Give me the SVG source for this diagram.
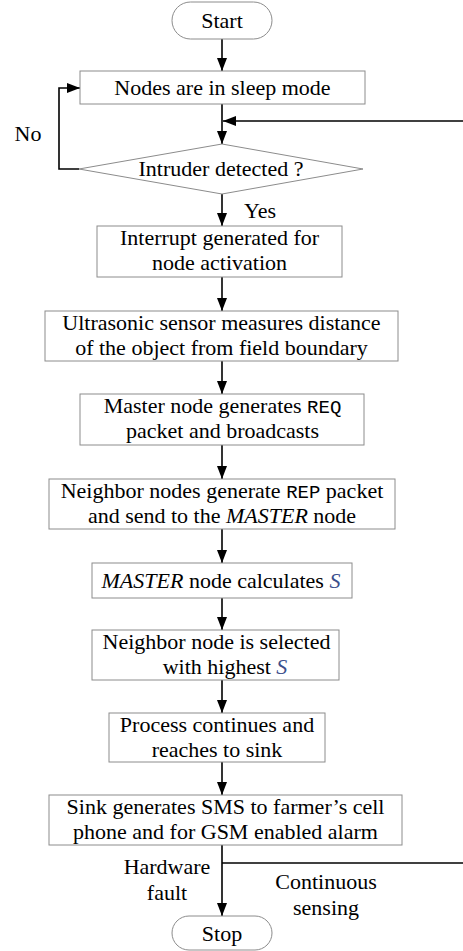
<svg xmlns="http://www.w3.org/2000/svg" width="463" height="951" viewBox="0 0 463 951">
<style>
.box{fill:#fff;stroke:#8c8c8c;stroke-width:1}
.t{font-family:"Liberation Serif","Times New Roman",serif;font-size:22px;fill:#000;text-anchor:middle}
.c{fill:none;stroke:#000;stroke-width:1.6}
.mono{font-family:"Liberation Mono","Courier New",monospace;font-size:19px}
.it{font-style:italic}
.s{font-style:italic;fill:#3b4f8c}
</style>
<defs>
<marker id="ah" markerUnits="userSpaceOnUse" markerWidth="13" markerHeight="10" refX="13" refY="5" orient="auto">
<path d="M0,0 L13,5 L0,10 z" fill="#000"/>
</marker>
</defs>
<rect width="463" height="951" fill="#fff"/>
<g id="connectors">
<path class="c" d="M222,39 V71" marker-end="url(#ah)"/>
<path class="c" d="M222,104 V144" marker-end="url(#ah)"/>
<path class="c" d="M463,121 H223" marker-end="url(#ah)"/>
<path class="c" d="M79,169 H59 V88 H80" marker-end="url(#ah)"/>
<path class="c" d="M222,194 V226" marker-end="url(#ah)"/>
<path class="c" d="M222,277 V311" marker-end="url(#ah)"/>
<path class="c" d="M222,361 V394" marker-end="url(#ah)"/>
<path class="c" d="M222,445 V479" marker-end="url(#ah)"/>
<path class="c" d="M222,529 V563" marker-end="url(#ah)"/>
<path class="c" d="M222,598 V630" marker-end="url(#ah)"/>
<path class="c" d="M222,680 V713" marker-end="url(#ah)"/>
<path class="c" d="M222,762 V795" marker-end="url(#ah)"/>
<path class="c" d="M222,845 V916" marker-end="url(#ah)"/>
<path class="c" d="M222,863 H463"/>
<text class="t" x="28" y="141">No</text>
<text class="t" x="260" y="218">Yes</text>
<text class="t" x="167" y="874">Hardware</text>
<text class="t" x="167" y="900">fault</text>
<text class="t" x="326" y="889">Continuous</text>
<text class="t" x="326" y="915">sensing</text>
</g>
<g id="start">
<rect class="box" x="172" y="2" width="100" height="37" rx="18.5"/>
<text class="t" x="222" y="28">Start</text>
</g>
<g id="sleep">
<rect class="box" x="80" y="71" width="285" height="33"/>
<text class="t" x="222.5" y="95">Nodes are in sleep mode</text>
</g>
<g id="decision">
<polygon class="box" points="222,144 363,169 222,194 79,169"/>
<text class="t" x="221" y="176">Intruder detected ?</text>
</g>
<g id="interrupt">
<rect class="box" x="97" y="226" width="245" height="51"/>
<text class="t" x="219.5" y="245">Interrupt generated for</text>
<text class="t" x="219.5" y="270">node activation</text>
</g>
<g id="ultrasonic">
<rect class="box" x="45" y="311" width="353" height="50"/>
<text class="t" x="221.5" y="330">Ultrasonic sensor measures distance</text>
<text class="t" x="221.5" y="355">of the object from field boundary</text>
</g>
<g id="master-req">
<rect class="box" x="80" y="394" width="284" height="51"/>
<text class="t" x="222.5" y="413">Master node generates <tspan class="mono">REQ</tspan></text>
<text class="t" x="222.5" y="438">packet and broadcasts</text>
</g>
<g id="neighbor-rep">
<rect class="box" x="49" y="479" width="346" height="50"/>
<text class="t" x="222" y="498">Neighbor nodes generate <tspan class="mono">REP</tspan> packet</text>
<text class="t" x="222" y="523">and send to the <tspan class="it">MASTER</tspan> node</text>
</g>
<g id="calc">
<rect class="box" x="92" y="563" width="260" height="35"/>
<text class="t" x="221" y="588"><tspan class="it">MASTER</tspan> node calculates <tspan class="s">S</tspan></text>
</g>
<g id="select">
<rect class="box" x="92" y="630" width="247" height="50"/>
<text class="t" x="216.5" y="649">Neighbor node is selected</text>
<text class="t" x="225" y="674">with highest <tspan class="s">S</tspan></text>
</g>
<g id="process">
<rect class="box" x="109" y="713" width="216" height="49"/>
<text class="t" x="217" y="732">Process continues and</text>
<text class="t" x="217" y="757">reaches to sink</text>
</g>
<g id="sink">
<rect class="box" x="49" y="795" width="353" height="50"/>
<text class="t" x="225.5" y="814">Sink generates SMS to farmer’s cell</text>
<text class="t" x="225.5" y="839">phone and for GSM enabled alarm</text>
</g>
<g id="stop">
<rect class="box" x="172" y="916" width="100" height="34" rx="17"/>
<text class="t" x="222" y="941">Stop</text>
</g>
</svg>
